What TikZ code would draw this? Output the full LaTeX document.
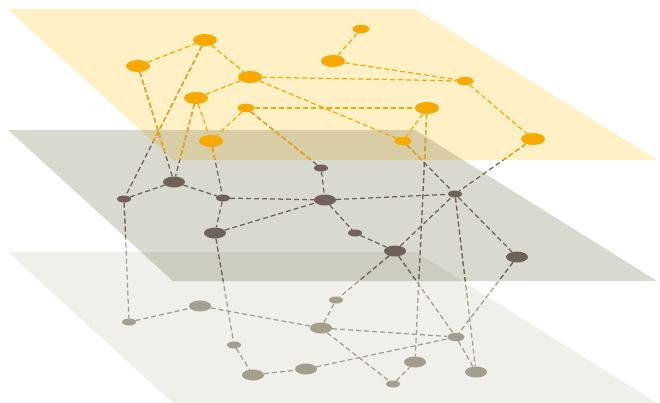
\documentclass[tikz,border=0pt]{standalone}
\usetikzlibrary{shapes.geometric}
\definecolor{topplane}{RGB}{255,240,198}
\definecolor{midplane}{RGB}{217,217,208}
\definecolor{botplane}{RGB}{240,239,234}
\definecolor{ovTM}{RGB}{217,205,165}
\definecolor{ovMB}{RGB}{205,204,192}
\definecolor{orng}{RGB}{247,169,0}
\definecolor{darkn}{RGB}{110,98,89}
\definecolor{lightn}{RGB}{163,158,143}
\pgfdeclarelayer{planes}
\pgfdeclarelayer{edges}
\pgfsetlayers{planes,edges,main}
\tikzset{
  nd/.style={ellipse, inner sep=0pt, draw=none},
  tn/.style={nd, fill=orng},
  mn/.style={nd, fill=darkn},
  bn/.style={nd, fill=lightn},
  big/.style={minimum width=24pt, minimum height=12pt},
  mbig/.style={minimum width=22pt, minimum height=11pt},
  med/.style={minimum width=17pt, minimum height=8.5pt},
  sml/.style={minimum width=14pt, minimum height=7pt},
  ed/.style={dash pattern=on 5pt off 3pt, line width=1.25pt},
}
\newcommand\toppath{(8,9) -- (415,9) -- (657,160) -- (173,160) -- cycle}
\newcommand\midpath{(8,130) -- (415,130) -- (657,281) -- (173,281) -- cycle}
\newcommand\botpath{(8,252) -- (416,252) -- (657,403) -- (173,403) -- cycle}
\newcommand\TTedges{%
  \draw (T2) -- (T1); \draw (T1) -- (T3); \draw (T3) -- (T4); \draw (T4) -- (T6);
  \draw (T5) -- (T6); \draw (T3) -- (T9); \draw (T3) -- (T11); \draw (T5) -- (T10);
  \draw (T8) -- (T7); \draw (T8) -- (T9); \draw (T9) -- (T12); \draw (T10) -- (T11);}
\newcommand\TMedges{%
  \draw (T1) -- (M1); \draw (T2) -- (M2); \draw (T4) -- (M2); \draw (T6) -- (M3);
  \draw (T5) -- (M4); \draw (T11) -- (M7); \draw (T12) -- (M7);}
\newcommand\TBedges{\draw (T10) -- (B9);}
\newcommand\MMedges{%
  \draw (M1) -- (M2); \draw (M2) -- (M3); \draw (M3) -- (M5); \draw (M3) -- (M6);
  \draw (M6) -- (M5); \draw (M4) -- (M5); \draw (M5) -- (M7); \draw (M5) -- (M8);
  \draw (M8) -- (M9); \draw (M9) -- (M7); \draw (M7) -- (M10);}
\newcommand\MBedges{%
  \draw (M1) -- (B1); \draw (M6) -- (B3); \draw (M9) -- (B7); \draw (M9) -- (B10);
  \draw (M10) -- (B10); \draw (M7) -- (B11);}
\newcommand\BBedges{%
  \draw (B1) -- (B2); \draw (B2) -- (B6); \draw (B3) -- (B4); \draw (B4) -- (B5);
  \draw (B5) -- (B10); \draw (B6) -- (B7); \draw (B6) -- (B10); \draw (B6) -- (B8);
  \draw (B8) -- (B9); \draw (B10) -- (B11);}
\begin{document}
\begin{tikzpicture}[x=1pt,y=-1pt]
\useasboundingbox (0,0) rectangle (660,402);
% planes
\begin{pgfonlayer}{planes}
  \fill[botplane] \botpath;
  \fill[midplane] \midpath;
  \begin{scope}\clip \midpath; \fill[ovMB] \botpath; \end{scope}
  \fill[topplane] \toppath;
  \begin{scope}\clip \toppath; \fill[ovTM] \midpath; \end{scope}
\end{pgfonlayer}
% top nodes
\node[tn,big] (T1) at (205,40) {};
\node[tn,big] (T2) at (138,66) {};
\node[tn,big] (T3) at (250,77) {};
\node[tn,big] (T4) at (196,98) {};
\node[tn,med] (T5) at (246,108) {};
\node[tn,big] (T6) at (211,141) {};
\node[tn,med] (T7) at (361,29) {};
\node[tn,big] (T8) at (333,61) {};
\node[tn,med] (T9) at (465,81) {};
\node[tn,big] (T10) at (427,108) {};
\node[tn,med] (T11) at (403,141) {};
\node[tn,big] (T12) at (533,139) {};
% middle nodes
\node[mn,sml] (M1) at (124,199) {};
\node[mn,mbig] (M2) at (174,182) {};
\node[mn,sml] (M3) at (223,198) {};
\node[mn,sml] (M4) at (321,168) {};
\node[mn,mbig] (M5) at (325,200) {};
\node[mn,mbig] (M6) at (215,233) {};
\node[mn,sml] (M7) at (455,194) {};
\node[mn,sml] (M8) at (355,233) {};
\node[mn,mbig] (M9) at (395,251) {};
\node[mn,mbig] (M10) at (517,257) {};
% bottom nodes
\node[bn,sml] (B1) at (129,322) {};
\node[bn,mbig] (B2) at (200,306) {};
\node[bn,sml] (B3) at (234,345) {};
\node[bn,mbig] (B4) at (253,375) {};
\node[bn,mbig] (B5) at (306,369) {};
\node[bn,mbig] (B6) at (321,328) {};
\node[bn,sml] (B7) at (336,300) {};
\node[bn,sml] (B8) at (393,384) {};
\node[bn,mbig] (B9) at (415,362) {};
\node[bn,med] (B10) at (456,337) {};
\node[bn,mbig] (B11) at (476,372) {};
% edges
\begin{pgfonlayer}{edges}
  \begin{scope}[ed,color=lightn] \BBedges \MBedges \TBedges \end{scope}
  \begin{scope}[ed,color=darkn] \MMedges \TMedges \end{scope}
  \begin{scope}[ed,color=orng] \TTedges \end{scope}
  \begin{scope}[ed,color=darkn] \clip \midpath; \MBedges \TBedges \end{scope}
  \begin{scope}[ed,color=orng] \clip \toppath; \TMedges \TBedges \end{scope}
\end{pgfonlayer}
\end{tikzpicture}
\end{document}
